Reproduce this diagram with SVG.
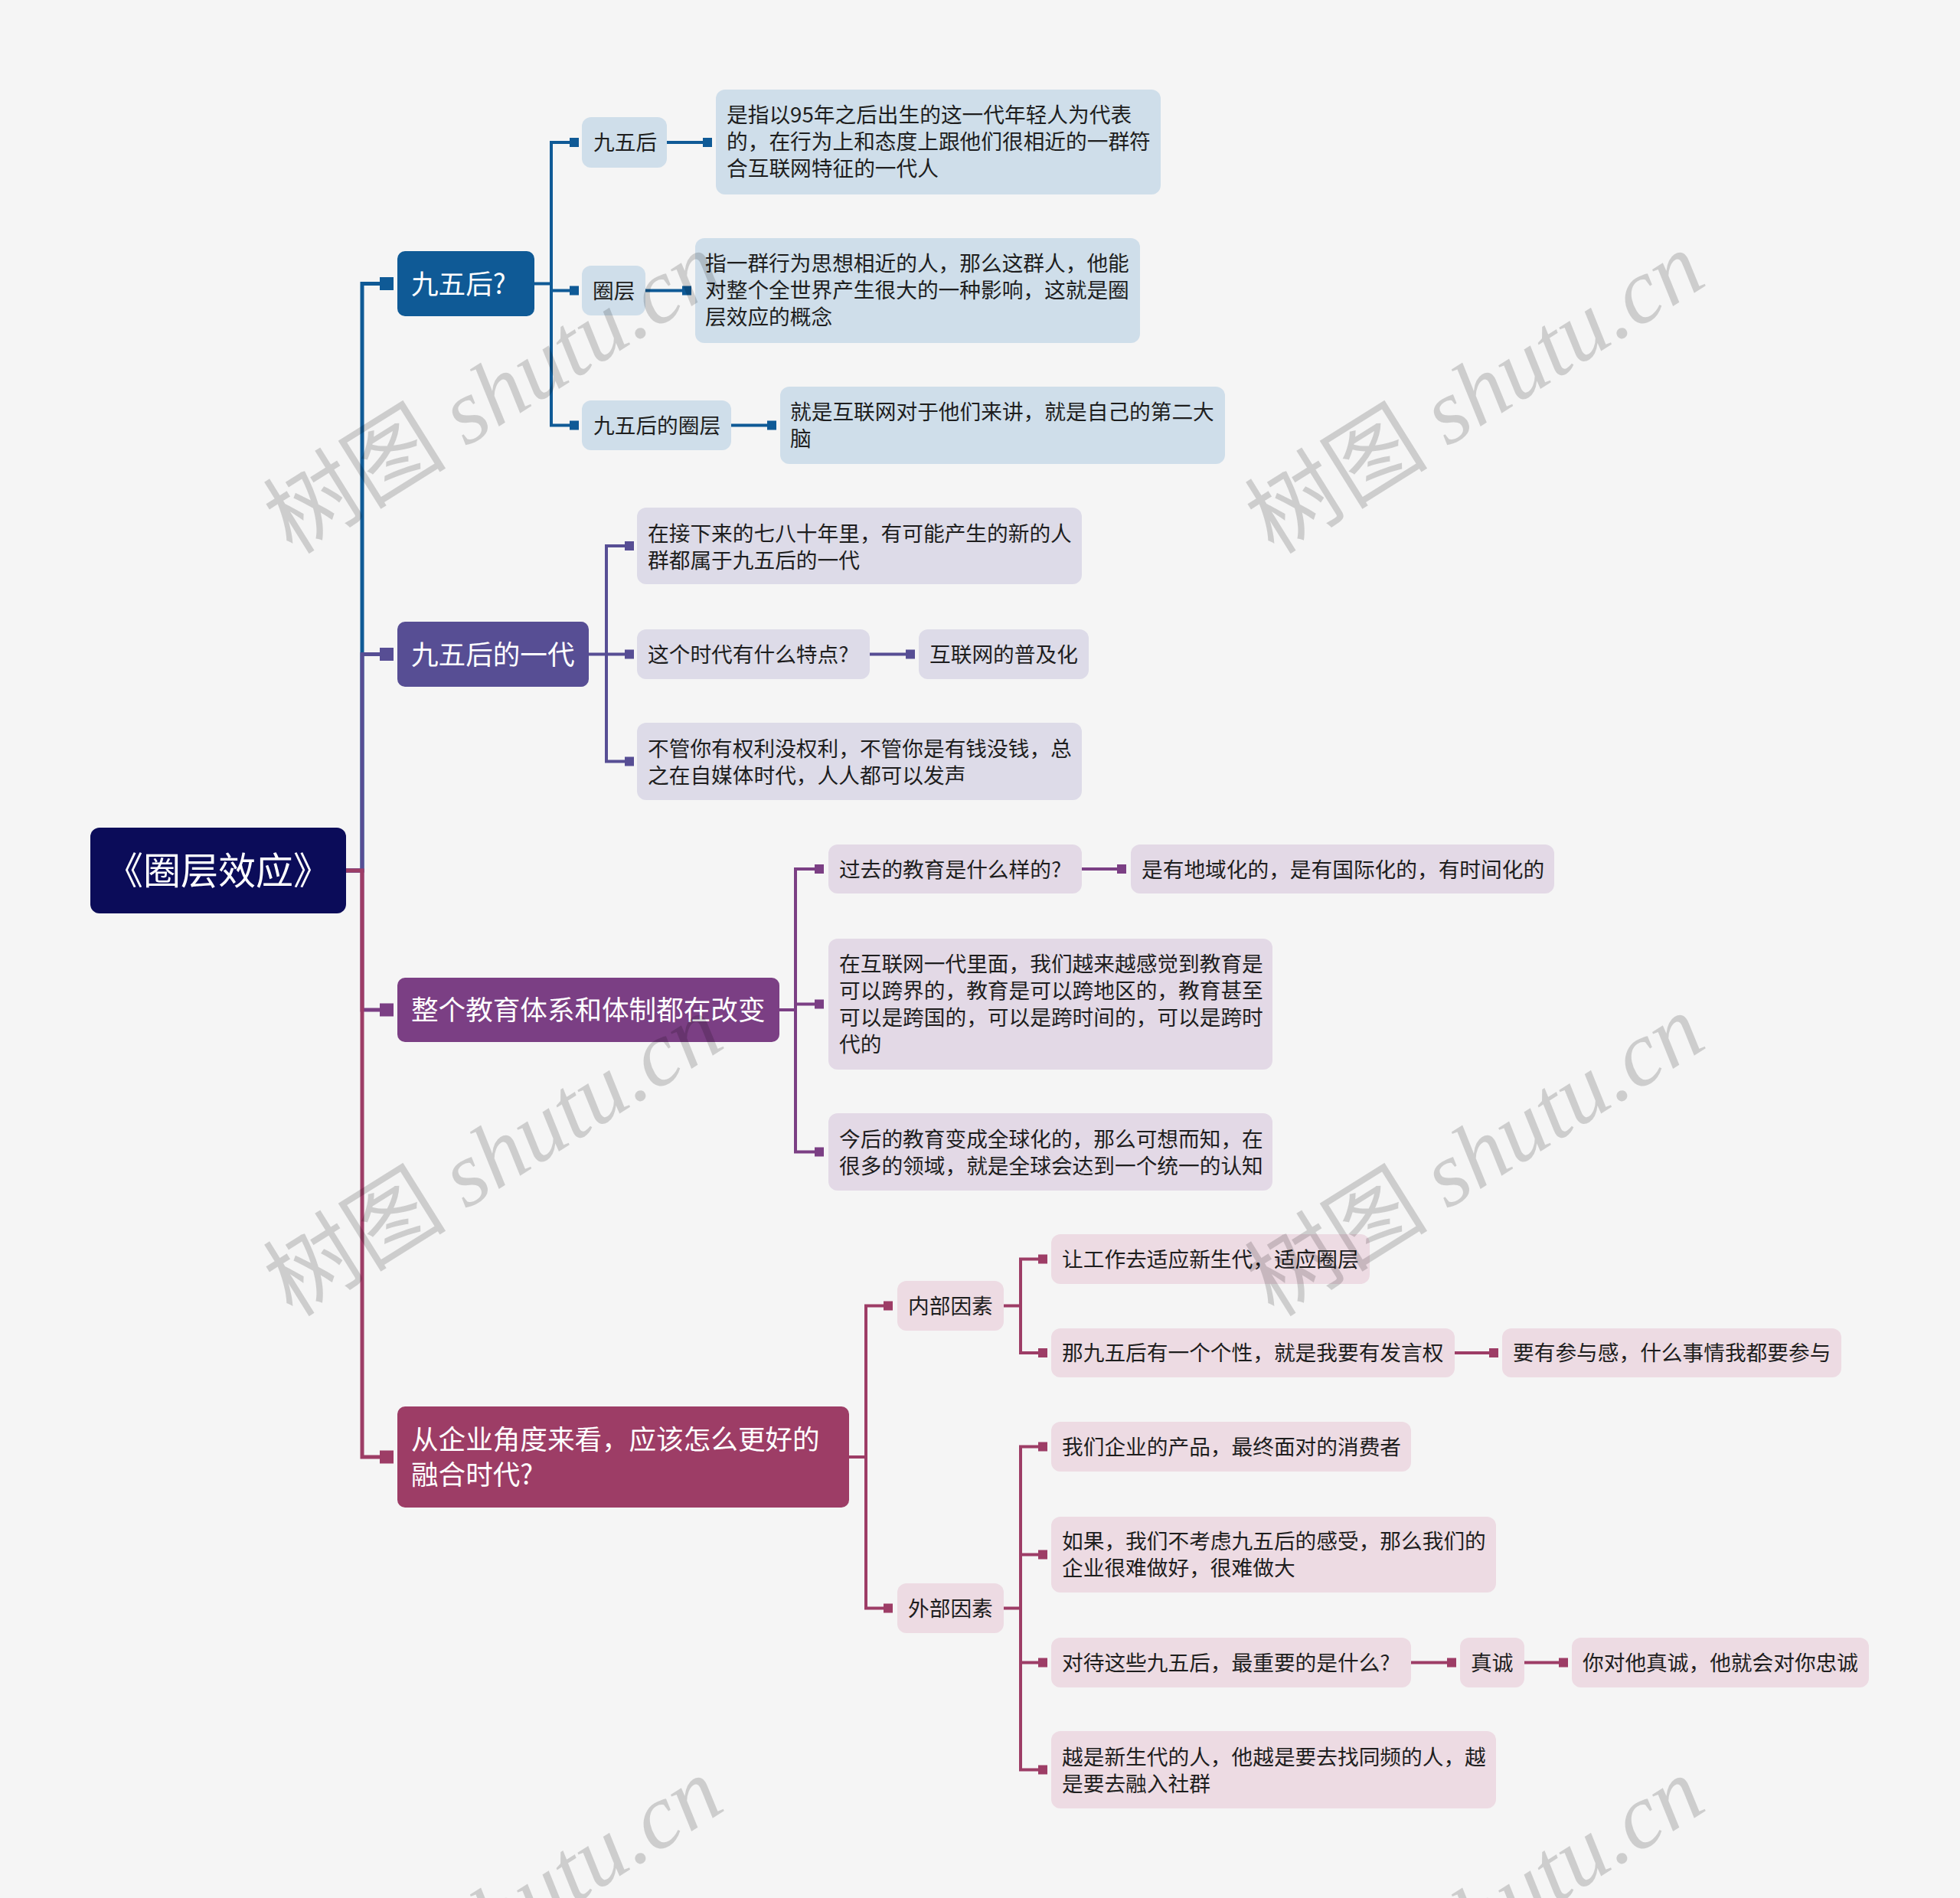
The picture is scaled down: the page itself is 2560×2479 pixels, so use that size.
<svg xmlns="http://www.w3.org/2000/svg" width="2560" height="2479" viewBox="0 0 2560 2479">
<style>
text{font-family:"Noto Sans CJK SC","Liberation Sans",sans-serif}
.root rect{fill:#0b0c59}
.root text{fill:#fff;font-size:49px;text-anchor:middle}
.l1 text{fill:#fff;font-size:35.6px}
.lf text{fill:#1e1e1e;font-size:27.7px}
.l1.a rect{fill:#0f5a96}
.l1.b rect{fill:#574e94}
.l1.c rect{fill:#7b3f84}
.l1.d rect{fill:#9d3d66}
.lf.a rect{fill:#cfdeea}
.lf.b rect{fill:#dddbe8}
.lf.c rect{fill:#e3d9e6}
.lf.d rect{fill:#eddbe3}
.cn path{fill:none;stroke-linejoin:miter}
.trunk{stroke-width:5}
.sub{stroke-width:4}
.ka{stroke:#0f5a96}.kb{stroke:#574e94}.kc{stroke:#7b3f84}.kd{stroke:#9d3d66}
.ma{fill:#0f5a96}.mb{fill:#574e94}.mc{fill:#7b3f84}.md{fill:#9d3d66}
.wm{font-size:120px;fill:#000;fill-opacity:0.16;text-anchor:middle}
.wm tspan.en{font-family:"Liberation Serif",serif;font-style:italic}
</style>
<rect width="2560" height="2479" fill="#f5f5f5"/>

<g id="connectors" class="cn">
  <path class="trunk ka" d="M452,1137 H473 V370.5 H500"/>
  <rect class="ma" x="496" y="362" width="18" height="17"/>
  <path class="trunk kb" d="M452,1137 H473 V854.5 H500"/>
  <rect class="mb" x="496" y="846" width="18" height="17"/>
  <path class="trunk kc" d="M452,1137 H473 V1319 H500"/>
  <rect class="mc" x="496" y="1310.5" width="18" height="17"/>
  <path class="trunk kd" d="M452,1137 H473 V1903 H500"/>
  <rect class="md" x="496" y="1894.5" width="18" height="17"/>

  <path class="sub ka" d="M698,370.5 H720 M748,186 H720 V555.5 H748 M720,379.5 H748"/>
  <rect class="ma" x="744" y="180" width="12" height="12"/>
  <rect class="ma" x="744" y="373.5" width="12" height="12"/>
  <rect class="ma" x="744" y="549.5" width="12" height="12"/>
  <path class="sub ka" d="M871,186 H922 M843,379.5 H896 M955,555.5 H1006"/>
  <rect class="ma" x="918" y="180" width="12" height="12"/>
  <rect class="ma" x="891" y="373.5" width="12" height="12"/>
  <rect class="ma" x="1002" y="549.5" width="12" height="12"/>

  <path class="sub kb" d="M769,854.5 H792 M820,713 H792 V994.5 H820 M792,854.5 H820"/>
  <rect class="mb" x="816" y="707" width="12" height="12"/>
  <rect class="mb" x="816" y="848.5" width="12" height="12"/>
  <rect class="mb" x="816" y="988.5" width="12" height="12"/>
  <path class="sub kb" d="M1136,854.5 H1187"/>
  <rect class="mb" x="1183" y="848.5" width="12" height="12"/>

  <path class="sub kc" d="M1018,1319 H1039 M1067,1135 H1039 V1504.5 H1067 M1039,1311.5 H1067"/>
  <rect class="mc" x="1064" y="1129" width="12" height="12"/>
  <rect class="mc" x="1064" y="1305.5" width="12" height="12"/>
  <rect class="mc" x="1064" y="1498.5" width="12" height="12"/>
  <path class="sub kc" d="M1413,1135 H1463"/>
  <rect class="mc" x="1459" y="1129" width="12" height="12"/>

  <path class="sub kd" d="M1109,1903 H1131 M1158,1705.5 H1131 V2100.5 H1158"/>
  <rect class="md" x="1154" y="1699.5" width="12" height="12"/>
  <rect class="md" x="1154" y="2094.5" width="12" height="12"/>
  <path class="sub kd" d="M1311,1705.5 H1333 M1360,1644.5 H1333 V1767 H1360"/>
  <rect class="md" x="1356" y="1638.5" width="12" height="12"/>
  <rect class="md" x="1356" y="1761" width="12" height="12"/>
  <path class="sub kd" d="M1900,1767 H1950"/>
  <rect class="md" x="1945" y="1761" width="12" height="12"/>
  <path class="sub kd" d="M1311,2100.5 H1333 M1360,1889.5 H1333 V2311.5 H1360 M1333,2030.5 H1360 M1333,2171.5 H1360"/>
  <rect class="md" x="1356" y="1883.5" width="12" height="12"/>
  <rect class="md" x="1356" y="2024.5" width="12" height="12"/>
  <rect class="md" x="1356" y="2165.5" width="12" height="12"/>
  <rect class="md" x="1356" y="2305.5" width="12" height="12"/>
  <path class="sub kd" d="M1843,2171.5 H1894 M1991,2171.5 H2040"/>
  <rect class="md" x="1890" y="2165.5" width="12" height="12"/>
  <rect class="md" x="2036" y="2165.5" width="12" height="12"/>
</g>

<g id="root" class="root">
  <rect x="118" y="1081" width="334" height="112" rx="12"/>
  <text x="285" y="1155">《圈层效应》</text>
</g>

<g id="n-a" class="l1 a"><rect x="519" y="328" width="179" height="85" rx="10"/><text x="537" y="384">九五后?</text></g>
<g id="n-b" class="l1 b"><rect x="519" y="812" width="250" height="85" rx="10"/><text x="537" y="868">九五后的一代</text></g>
<g id="n-c" class="l1 c"><rect x="519" y="1277" width="499" height="84" rx="10"/><text x="537" y="1332">整个教育体系和体制都在改变</text></g>
<g id="n-d" class="l1 d"><rect x="519" y="1837" width="590" height="132" rx="10"/><text x="537" y="1893">从企业角度来看，应该怎么更好的</text><text x="537" y="1939">融合时代?</text></g>

<g id="n-a1" class="lf a"><rect x="760" y="153" width="111" height="66" rx="12"/><text x="775" y="196">九五后</text></g>
<g id="n-a2" class="lf a"><rect x="760" y="347" width="83" height="65" rx="12"/><text x="774" y="390">圈层</text></g>
<g id="n-a3" class="lf a"><rect x="760" y="523" width="195" height="65" rx="12"/><text x="775" y="566">九五后的圈层</text></g>
<g id="n-a1a" class="lf a"><rect x="935" y="117" width="581" height="137" rx="12"/>
  <text x="949" y="160">是指以95年之后出生的这一代年轻人为代表</text>
  <text x="949" y="195">的，在行为上和态度上跟他们很相近的一群符</text>
  <text x="949" y="230">合互联网特征的一代人</text></g>
<g id="n-a2a" class="lf a"><rect x="908" y="311" width="581" height="137" rx="12"/>
  <text x="921" y="354">指一群行为思想相近的人，那么这群人，他能</text>
  <text x="921" y="389">对整个全世界产生很大的一种影响，这就是圈</text>
  <text x="921" y="424">层效应的概念</text></g>
<g id="n-a3a" class="lf a"><rect x="1019" y="505" width="581" height="101" rx="12"/>
  <text x="1032" y="548">就是互联网对于他们来讲，就是自己的第二大</text>
  <text x="1032" y="583">脑</text></g>

<g id="n-b1" class="lf b"><rect x="832" y="663" width="581" height="100" rx="12"/>
  <text x="846" y="707">在接下来的七八十年里，有可能产生的新的人</text>
  <text x="846" y="742">群都属于九五后的一代</text></g>
<g id="n-b2" class="lf b"><rect x="832" y="822" width="304" height="65" rx="12"/><text x="846" y="865">这个时代有什么特点?</text></g>
<g id="n-b3" class="lf b"><rect x="1200" y="822" width="222" height="65" rx="12"/><text x="1214" y="865">互联网的普及化</text></g>
<g id="n-b4" class="lf b"><rect x="832" y="944" width="581" height="101" rx="12"/>
  <text x="846" y="988">不管你有权利没权利，不管你是有钱没钱，总</text>
  <text x="846" y="1023">之在自媒体时代，人人都可以发声</text></g>

<g id="n-c1" class="lf c"><rect x="1082" y="1103" width="331" height="64" rx="12"/><text x="1096" y="1146">过去的教育是什么样的?</text></g>
<g id="n-c2" class="lf c"><rect x="1477" y="1103" width="553" height="64" rx="12"/><text x="1491" y="1146">是有地域化的，是有国际化的，有时间化的</text></g>
<g id="n-c3" class="lf c"><rect x="1082" y="1226" width="580" height="171" rx="12"/>
  <text x="1096" y="1269">在互联网一代里面，我们越来越感觉到教育是</text>
  <text x="1096" y="1304">可以跨界的，教育是可以跨地区的，教育甚至</text>
  <text x="1096" y="1339">可以是跨国的，可以是跨时间的，可以是跨时</text>
  <text x="1096" y="1374">代的</text></g>
<g id="n-c4" class="lf c"><rect x="1082" y="1454" width="580" height="101" rx="12"/>
  <text x="1096" y="1498">今后的教育变成全球化的，那么可想而知，在</text>
  <text x="1096" y="1533">很多的领域，就是全球会达到一个统一的认知</text></g>

<g id="n-din" class="lf d"><rect x="1172" y="1673" width="139" height="65" rx="12"/><text x="1186" y="1716">内部因素</text></g>
<g id="n-dout" class="lf d"><rect x="1172" y="2068" width="139" height="65" rx="12"/><text x="1186" y="2111">外部因素</text></g>
<g id="n-d1a" class="lf d"><rect x="1373" y="1612" width="416" height="65" rx="12"/><text x="1387" y="1655">让工作去适应新生代，适应圈层</text></g>
<g id="n-d1b" class="lf d"><rect x="1373" y="1735" width="527" height="64" rx="12"/><text x="1387" y="1777">那九五后有一个个性，就是我要有发言权</text></g>
<g id="n-d1c" class="lf d"><rect x="1962" y="1735" width="443" height="64" rx="12"/><text x="1976" y="1777">要有参与感，什么事情我都要参与</text></g>
<g id="n-d2a" class="lf d"><rect x="1373" y="1857" width="470" height="65" rx="12"/><text x="1387" y="1900">我们企业的产品，最终面对的消费者</text></g>
<g id="n-d2b" class="lf d"><rect x="1373" y="1981" width="581" height="99" rx="12"/>
  <text x="1387" y="2023">如果，我们不考虑九五后的感受，那么我们的</text>
  <text x="1387" y="2058">企业很难做好，很难做大</text></g>
<g id="n-d2c" class="lf d"><rect x="1373" y="2139" width="470" height="65" rx="12"/><text x="1387" y="2182">对待这些九五后，最重要的是什么?</text></g>
<g id="n-d2d" class="lf d"><rect x="1907" y="2139" width="84" height="65" rx="12"/><text x="1921" y="2182">真诚</text></g>
<g id="n-d2e" class="lf d"><rect x="2053" y="2139" width="388" height="65" rx="12"/><text x="2067" y="2182">你对他真诚，他就会对你忠诚</text></g>
<g id="n-d2f" class="lf d"><rect x="1373" y="2261" width="581" height="101" rx="12"/>
  <text x="1387" y="2305">越是新生代的人，他越是要去找同频的人，越</text>
  <text x="1387" y="2340">是要去融入社群</text></g>

<g id="watermarks" class="wm">
  <text transform="translate(645,514) rotate(-32)" y="40">树图 <tspan class="en">shutu.cn</tspan></text>
  <text transform="translate(1927,514) rotate(-32)" y="40">树图 <tspan class="en">shutu.cn</tspan></text>
  <text transform="translate(645,1510) rotate(-32)" y="40">树图 <tspan class="en">shutu.cn</tspan></text>
  <text transform="translate(1927,1510) rotate(-32)" y="40">树图 <tspan class="en">shutu.cn</tspan></text>
  <text transform="translate(645,2506) rotate(-32)" y="40">树图 <tspan class="en">shutu.cn</tspan></text>
  <text transform="translate(1927,2506) rotate(-32)" y="40">树图 <tspan class="en">shutu.cn</tspan></text>
</g>
</svg>
